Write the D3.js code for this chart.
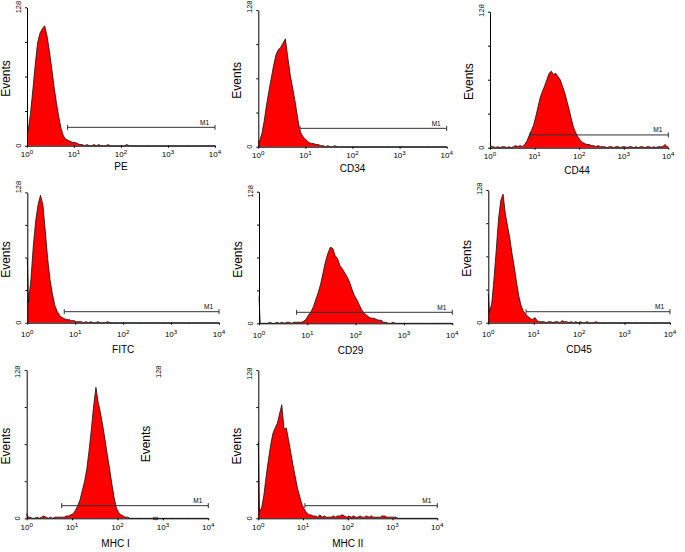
<!DOCTYPE html>
<html><head><meta charset="utf-8">
<script src="https://cdn.jsdelivr.net/npm/d3@7"></script>
<style>
body{margin:0;background:#fff}
svg{display:block}
text{font-family:"Liberation Sans",Arial,sans-serif;fill:#000}
</style>
</head><body>
<svg id="c" width="685" height="552"></svg>
<script>
// ---------------- data ----------------
const names = ["PE","CD34","CD44","FITC","CD29","CD45","MHC I","MHC II"];
const binsPerDecade = 20;
const yMax = 128;
const yTicks = [0,32,64,96,128];
const xTicks = [1,10,100,1000,10000];
const xTickExp = ["0","1","2","3","4"];
const firstChannel = [0,0,4,63,26,28,4,66];

const countsPE = [14,30,52,75,95,104,108,111,102,88, 72,55,40,27,16,9,6,5,4,3, 3,2,1,1,0,1,0,0,1,0, 1,0,0,0,1,0,0,0,0,0, 0,0,1,0,0,0,0,0,0,0, 0,0,0,0,0,0,0,0,0,0, 0,0,0,0,0,0,0,0,0,0, 0,0,0,0,0,0,0,0,0,0];
const countsCD34 = [5,12,24,39,52,64,76,86,91,93, 97,101,84,68,56,44,30,16,11,8, 6,4,3,3,2,2,1,1,0,1, 0,0,1,0,0,0,0,0,0,0, 0,0,0,0,0,0,0,0,0,0, 0,0,0,0,0,0,0,0,0,0, 0,0,0,0,0,0,0,0,0,0, 0,0,0,0,0,0,0,0,0,0];
const countsCD44 = [1,1,0,1,0,1,1,0,1,0, 1,2,1,2,1,3,6,11,16,21, 29,38,47,53,58,64,70,72,69,70, 67,64,58,52,44,36,27,19,14,10, 7,5,4,3,3,2,2,1,2,1, 1,1,0,1,1,0,1,1,0,1, 1,0,1,1,0,1,0,1,1,0, 1,1,0,1,0,1,1,1,3,1];
const countsFITC = [20,42,75,100,116,125,116,90,63,42, 28,17,11,7,5,4,3,3,2,2, 1,1,1,0,1,0,1,0,0,1, 0,0,0,1,0,0,0,0,0,0, 0,0,0,0,0,0,0,0,0,0, 0,0,0,0,0,0,0,0,0,0, 0,0,0,0,0,0,0,0,0,0, 0,0,0,0,0,0,0,0,0,0];
const countsCD29 = [0,0,0,0,1,0,0,1,0,1, 0,1,1,0,1,1,1,1,2,4, 8,11,16,23,30,38,49,60,68,74, 73,66,63,56,53,49,45,40,33,27, 23,18,13,10,8,6,5,5,4,3, 3,1,1,0,0,1,0,0,0,0, 0,0,0,0,0,0,0,0,0,0, 0,0,0,0,0,0,0,0,0,0];
const countsCD45 = [10,18,42,70,100,118,124,105,93,81, 66,53,38,25,16,11,8,6,4,3, 5,2,1,1,1,0,1,1,0,1, 1,0,2,1,1,0,1,0,1,0, 1,0,0,1,0,0,0,1,0,0, 0,0,0,0,0,0,0,0,0,0, 0,0,0,0,0,0,0,0,0,0, 0,0,0,0,0,0,0,0,0,0];
const countsMHCI = [1,1,0,0,1,0,1,2,1,0, 1,0,1,1,1,1,1,2,2,3, 4,7,11,16,24,32,43,59,77,97, 113,100,91,80,68,55,43,30,18,9, 5,3,2,1,1,0,0,0,0,0, 0,0,0,0,0,0,0,0,0,0, 0,0,0,0,0,0,0,0,0,0, 0,0,0,0,0,0,0,0,0,0];
const countsMHCII = [6,9,20,36,50,63,73,78,82,90, 98,77,78,68,57,46,36,26,19,12, 8,5,3,3,2,2,1,3,1,2, 1,1,1,2,1,2,2,3,2,1, 2,1,2,1,1,2,1,1,2,1, 2,1,1,1,1,2,2,1,1,1, 1,1,0,0,0,0,0,0,0,0, 0,0,0,0,0,0,0,0,0,0];
const allCounts = [countsPE,countsCD34,countsCD44,countsFITC,countsCD29,countsCD45,countsMHCI,countsMHCII];

const markerLabel = "M1";
const markerStart = [7.3,7.7,7.9,5.9,6.0,6.8,5.9,11];
const markerEnd = [10000,10000,10000,10000,10000,10000,10000,10000];
const markerLevel = [17,17.2,12,10.8,10.7,10.6,10.9,10.9];

// ---------------- layout ----------------
const layout = [
  {x0:27,   x4:215,   base:145.7, top:7.3,   tickDy:11,   labelDy:24.5, labelDx:0,  topDy:6},
  {x0:258.3,x4:446.7, base:146.7, top:10,    tickDy:11.6, labelDy:25,   labelDx:0,  topDy:3},
  {x0:490,  x4:668.3, base:147.7, top:11.7,  tickDy:11.6, labelDy:26.3, labelDx:-2, topDy:5},
  {x0:27.3, x4:219,   base:322.7, top:192.3, tickDy:14.6, labelDy:30.6, labelDx:0,  topDy:1},
  {x0:259,  x4:452.3, base:323.3, top:191.7, tickDy:15,   labelDy:30.7, labelDx:-5, topDy:6},
  {x0:488.3,x4:670,   base:322.7, top:190,   tickDy:14,   labelDy:30.6, labelDx:0,  topDy:5},
  {x0:26.7, x4:208.3, base:518.3, top:370,   tickDy:11.7, labelDy:28.4, labelDx:-2, topDy:8},
  {x0:258.3,x4:437.3, base:518.3, top:370,   tickDy:11.7, labelDy:28.4, labelDx:0,  topDy:10}
];

const svg = d3.select("#c");
svg.append("rect").attr("width",685).attr("height",552).attr("fill","#fff");

names.forEach((name, p) => {
  const L = layout[p];
  const counts = allCounts[p];
  const x = d3.scaleLog().domain([1, 1e4]).range([L.x0, L.x4]);
  const y = d3.scaleLinear().domain([0, yMax]).range([L.base, L.top]);
  const g = svg.append("g");

  // histogram points: first channel, then bin centres (log10 units)
  const spike = firstChannel[p];
  const pts = [{lx:0, v: spike > 0 ? spike : counts[0]}];
  counts.forEach((c, i) => pts.push({lx:(i + 0.5) / binsPerDecade, v:c}));
  pts.push({lx: counts.length / binsPerDecade, v: counts[counts.length-1]});

  const area = d3.area()
    .x(d => x(Math.pow(10, d.lx)))
    .y0(L.base)
    .y1(d => y(d.v));
  const line = d3.line()
    .x(d => x(Math.pow(10, d.lx)))
    .y(d => y(d.v));

  g.append("path").datum(pts).attr("d", area).attr("fill", "#ff0000");
  g.append("path").datum(pts).attr("d", line).attr("fill","none")
    .attr("stroke","#111").attr("stroke-width",0.8);

  // axes
  const xa = g.append("g").attr("transform", `translate(0,${L.base})`)
    .call(d3.axisBottom(x).tickValues(xTicks).tickSize(2).tickSizeOuter(0).tickFormat(""));
  const ya = g.append("g").attr("transform", `translate(${L.x0},0)`)
    .call(d3.axisLeft(y).tickValues(yTicks).tickSize(2).tickSizeOuter(0).tickFormat(""));
  [xa, ya].forEach(a => {
    a.select(".domain").attr("stroke","#000").attr("stroke-width",1);
    a.selectAll(".tick line").attr("stroke","#000").attr("stroke-width",1);
  });

  // x tick labels 10^n
  xTicks.forEach((t, i) => {
    const tx = g.append("text").attr("x", x(t)).attr("y", L.base + L.tickDy)
      .attr("text-anchor","middle").attr("font-size",8);
    tx.append("tspan").text("10");
    tx.append("tspan").attr("dy",-3.2).attr("font-size",6.2).text(xTickExp[i]);
  });

  // y labels (rotated)
  g.append("text").attr("transform", `translate(${L.x0-6.5},${L.top+L.topDy}) rotate(-90)`)
    .attr("text-anchor","start").attr("font-size",7.5).text(String(yMax));
  g.append("text").attr("transform", `translate(${L.x0-6.5},${L.base}) rotate(-90)`)
    .attr("text-anchor","middle").attr("font-size",7.5).text(String(yTicks[0]));
  g.append("text").attr("transform", `translate(${L.x0-17},${(L.base+L.top)/2+2}) rotate(-90)`)
    .attr("text-anchor","middle").attr("font-size",12).text("Events");

  // x label
  g.append("text").attr("x", (L.x0+L.x4)/2 + L.labelDx).attr("y", L.base + L.labelDy)
    .attr("text-anchor","middle").attr("font-size",10).text(name);

  // M1 marker
  const my = y(markerLevel[p]);
  const mx1 = x(markerStart[p]), mx2 = x(markerEnd[p]);
  const mk = g.append("g").attr("stroke","#333").attr("stroke-width",1);
  mk.append("line").attr("x1",mx1).attr("x2",mx2).attr("y1",my).attr("y2",my);
  mk.append("line").attr("x1",mx1).attr("x2",mx1).attr("y1",my-2.5).attr("y2",my+2.5);
  mk.append("line").attr("x1",mx2).attr("x2",mx2).attr("y1",my-2.5).attr("y2",my+2.5);
  g.append("text").attr("x", mx2-6).attr("y", my-2.5).attr("text-anchor","end")
    .attr("font-size",6.5).text(markerLabel);
});

// stray overlaid axis labels visible in the MHC I panel
const stray = svg.append("g");
stray.append("text").attr("transform","translate(161,378) rotate(-90)")
  .attr("text-anchor","start").attr("font-size",7.5).text(String(yMax));
stray.append("text").attr("transform","translate(157.5,518.3) rotate(-90)")
  .attr("text-anchor","middle").attr("font-size",7.5).text(String(yTicks[0]));
stray.append("text").attr("transform","translate(149.5,444) rotate(-90)")
  .attr("text-anchor","middle").attr("font-size",12).text("Events");
</script>
</body></html>
